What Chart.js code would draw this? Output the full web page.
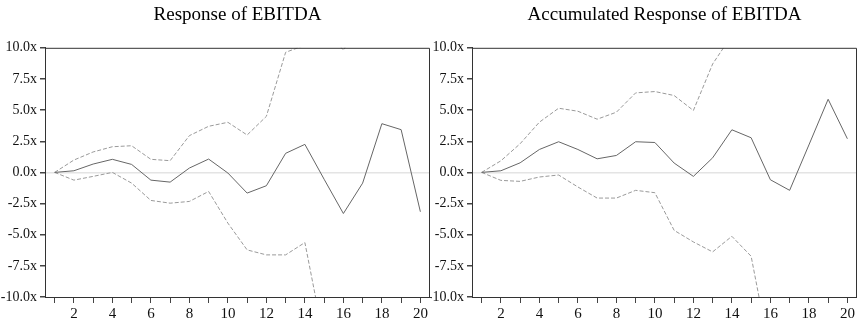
<!DOCTYPE html>
<html>
<head>
<meta charset="utf-8">
<script src="https://cdn.jsdelivr.net/npm/chart.js@4"></script>
<style>
  html, body { margin: 0; padding: 0; background: #fff; }
  #wrap { position: relative; width: 857px; height: 322px; }
  .box { position: absolute; top: 0; height: 322px; }
  #boxLeft { left: 0; width: 431px; }
  #boxRight { left: 431px; width: 426px; }
</style>
</head>
<body>
<div id="wrap">
  <div class="box" id="boxLeft"><canvas id="respChart"></canvas></div>
  <div class="box" id="boxRight"><canvas id="accChart"></canvas></div>
</div>
<script>
const periods = Array.from({ length: 20 }, (_, i) => String(i + 1));
const yTicks = [-10, -7.5, -5, -2.5, 0, 2.5, 5, 7.5, 10];

// Response of EBITDA
const respMid = [0, 0.13, 0.67, 1.05, 0.64, -0.62, -0.78, 0.35, 1.07, -0.05, -1.66, -1.07, 1.53, 2.25, -0.55, -3.3, -0.86, 3.91, 3.43, -3.16];
const respUpper = [0, 0.99, 1.64, 2.06, 2.14, 1.05, 0.94, 2.95, 3.7, 4.02, 3.0, 4.5, 9.64, 10.2, 11.8, 9.8, 12.5, 14, 15, 14];
const respLower = [0, -0.62, -0.32, 0, -0.86, -2.25, -2.47, -2.33, -1.53, -4.07, -6.22, -6.62, -6.62, -5.63, -13.5, -14, -15, -16, -17, -16];

// Accumulated Response of EBITDA
const accMid = [0, 0.13, 0.77, 1.84, 2.46, 1.84, 1.09, 1.36, 2.46, 2.4, 0.75, -0.32, 1.17, 3.42, 2.78, -0.59, -1.44, 2.2, 5.87, 2.7];
const accUpper = [0, 0.93, 2.3, 4.03, 5.15, 4.91, 4.27, 4.83, 6.38, 6.49, 6.17, 4.97, 8.7, 11, 12, 13, 14, 15, 16, 17];
const accLower = [0, -0.64, -0.72, -0.37, -0.21, -1.17, -2.06, -2.06, -1.44, -1.63, -4.65, -5.58, -6.38, -5.13, -6.73, -14.7, -15, -16, -17, -18];

const serif = "'Liberation Serif', 'Times New Roman', serif";

// top + right frame of the plot area
const framePlugin = {
    id: "frame",
    afterDraw(chart) {
        const { ctx, chartArea: a } = chart;
        ctx.save();
        ctx.strokeStyle = "#333";
        ctx.lineWidth = 1;
        ctx.beginPath();
        ctx.moveTo(a.left, a.top + 0.5);
        ctx.lineTo(a.right - 0.5, a.top + 0.5);
        ctx.lineTo(a.right - 0.5, a.bottom);
        ctx.stroke();
        ctx.restore();
    }
};

function makeChart(id, title, mid, upper, lower, yWidth, padRight) {
    const dashed = { borderColor: "#9a9a9a", borderWidth: 1, borderDash: [4, 2], pointRadius: 0, tension: 0, fill: false };
    return new Chart(document.getElementById(id), {
        type: "line",
        data: {
            labels: periods,
            datasets: [
                { data: mid, borderColor: "#666", borderWidth: 1, pointRadius: 0, tension: 0, fill: false },
                { data: upper, ...dashed },
                { data: lower, ...dashed }
            ]
        },
        options: {
            responsive: true,
            maintainAspectRatio: false,
            animation: false,
            layout: { padding: { left: 0, right: padRight, top: 0, bottom: 0 } },
            plugins: {
                legend: { display: false },
                tooltip: { enabled: false },
                title: {
                    display: true,
                    fullSize: false,
                    text: title,
                    color: "#000",
                    font: { family: serif, size: 19, weight: "normal" },
                    padding: { top: 4, bottom: 21 }
                }
            },
            scales: {
                x: {
                    type: "category",
                    offset: true,
                    grid: { display: true, offset: false, drawOnChartArea: false, drawTicks: true, tickLength: 6, tickColor: "#444" },
                    border: { display: true, color: "#333" },
                    ticks: {
                        autoSkip: false,
                        maxRotation: 0,
                        padding: 2,
                        color: "#111",
                        font: { family: serif, size: 15 },
                        callback: (v, i) => ((i + 1) % 2 === 0 ? periods[i] : "")
                    },
                    afterFit: (s) => { s.height = 25; }
                },
                y: {
                    min: -10,
                    max: 10,
                    afterBuildTicks: (s) => { s.ticks = yTicks.map((v) => ({ value: v })); },
                    grid: {
                        drawOnChartArea: true,
                        color: (c) => (c.tick && c.tick.value === 0 ? "#e4e4e4" : "rgba(0,0,0,0)"),
                        lineWidth: 1.5,
                        tickLength: 5,
                        tickColor: "#444"
                    },
                    border: { display: true, color: "#333" },
                    ticks: {
                        padding: 3,
                        color: "#111",
                        font: { family: serif, size: 14 },
                        callback: (v) => Number(v).toFixed(1) + "x"
                    },
                    afterFit: (s) => { s.width = yWidth; }
                }
            }
        },
        plugins: [framePlugin]
    });
}

makeChart("respChart", "Response of EBITDA", respMid, respUpper, respLower, 45, 1);
makeChart("accChart", "Accumulated Response of EBITDA", accMid, accUpper, accLower, 41, 0);
</script>
</body>
</html>
